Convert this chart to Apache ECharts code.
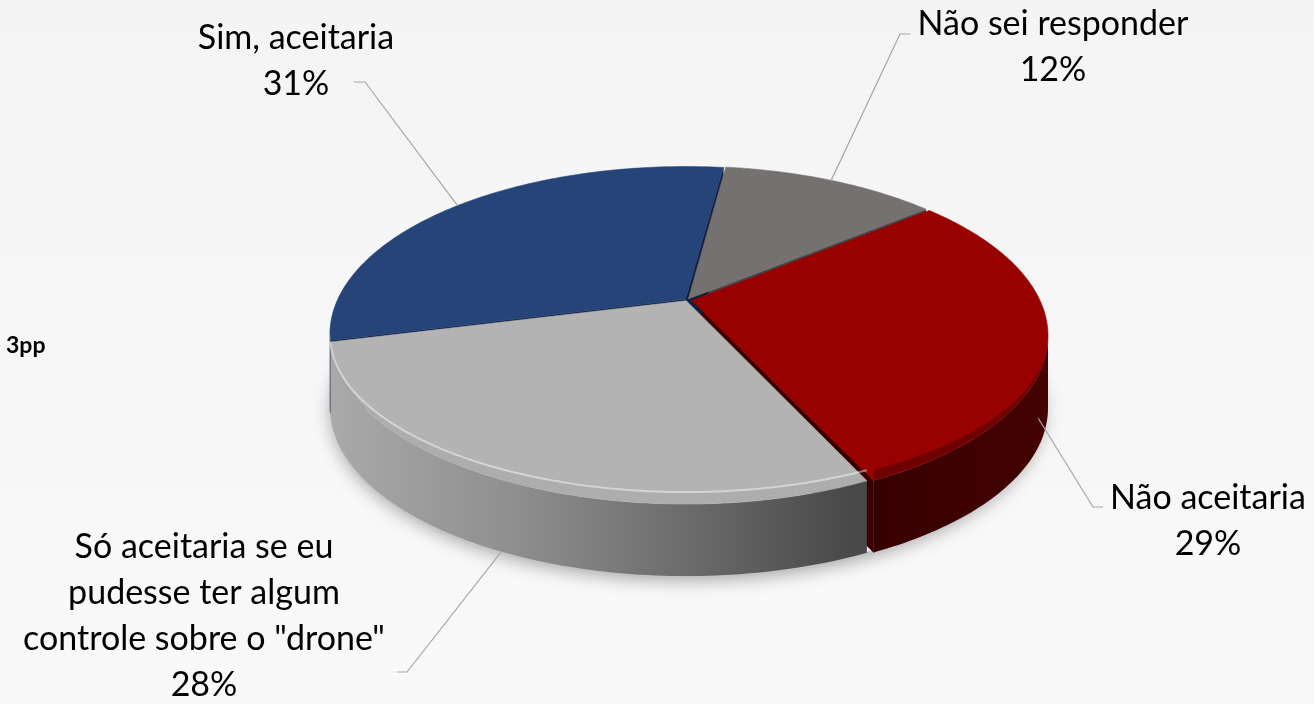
<!DOCTYPE html>
<html><head><meta charset="utf-8">
<script src="https://cdn.jsdelivr.net/npm/echarts@6/dist/echarts.min.js"></script>
<style>html,body{margin:0;padding:0;background:#f5f5f5}#c{width:1314px;height:704px}</style>
</head><body><div id="c"></div>
<script>
// ---- data ----
const categories = ['Não sei responder', 'Não aceitaria', 'Só aceitaria se eu\npudesse ter algum\ncontrole sobre o "drone"', 'Sim, aceitaria'];
const values = [12, 29, 28, 31];
const percentLabels = ['12%', '29%', '28%', '31%'];
const sideNote = '3pp';

// ---- derived ----
const total = values.reduce((a, b) => a + b, 0);
const cumBefore = values.map((v, i) => values.slice(0, i).reduce((a, b) => a + b, 0));
const sliceData = values.map((v, i) => ({ name: categories[i], value: [v, cumBefore[i]] }));

// ---- geometry / style ----
const G = { cx: 687, cy: 300, k: 348, m: 160.7, p: 0.208, th: 72, start: 82.5 };
const EXPLODE = [0.008, 0.014, 0.005, 0.006];
const TOP = ['#767171', '#990000', '#b3b3b3', '#264478'];
const WALL = ['#4a4646', '#3a0000', '#6e6e6e', '#0f1f3e'];
const SIDEFILL = [
  '#4f4b4b',
  { type: 'linear', x: 850, y: 0, x2: 1045, y2: 0, global: true, colorStops: [{ offset: 0, color: '#350000' }, { offset: 1, color: '#440202' }] },
  { type: 'linear', x: 328, y: 0, x2: 852, y2: 0, global: true, colorStops: [{ offset: 0, color: '#aaaaaa' }, { offset: 0.35, color: '#8f8f8f' }, { offset: 0.7, color: '#6a6a6a' }, { offset: 1, color: '#484848' }] },
  '#1f3b6a'
];
const BEVEL = ['rgba(0,0,0,0.1)', 'rgba(0,0,0,0.28)', 'rgba(0,0,0,0.03)', 'rgba(255,255,255,0.08)'];
const HILITE = ['rgba(255,255,255,0.12)', 'rgba(0,0,0,0)', 'rgba(255,255,255,0.45)', 'rgba(255,255,255,0.12)'];
const BEV_H = 12;
const LABEL_LAYOUT = [
  { x: 1053, y: 47, elbow: [900, 34], end: [910, 34], angle: null, depth: 0 },
  { x: 1208, y: 521, elbow: [1093, 507], end: [1103, 507], angle: -25, depth: 0.6 },
  { x: 204, y: 616, elbow: [407, 672], end: [397, 672], angle: null, depth: 1 },
  { x: 296, y: 61, elbow: [365, 82], end: [354, 82], angle: null, depth: 0 }
];

const D2R = Math.PI / 180;
function proj(X, Z, d) { const w = 1 + G.p * Z; return [G.cx + G.k * X / w, G.cy - G.m * Z / w + G.th * d]; }
function angles(v, c) { const a2 = G.start - 360 * c / total; return [a2 - 360 * v / total, a2]; }
function offset(i, a1, a2) { const mid = (a1 + a2) / 2 * D2R, e = EXPLODE[i]; return [e * Math.cos(mid), e * Math.sin(mid)]; }
function rim(t, o, d) { return proj(o[0] + Math.cos(t * D2R), o[1] + Math.sin(t * D2R), d); }
function arc(a, b, o, d) { const n = Math.max(2, Math.ceil(Math.abs(b - a))); const pts = []; for (let j = 0; j <= n; j++) pts.push(rim(a + (b - a) * j / n, o, d)); return pts; }
const SIL = Math.asin(G.p) / D2R;
function visibleRange(a1, a2) {
  const lo = 180 + SIL, hi = 360 - SIL;
  for (let s = -720; s <= 720; s += 360) { const x1 = Math.max(a1 + s, lo), x2 = Math.min(a2 + s, hi); if (x2 > x1) return [x1 - s, x2 - s]; }
  return null;
}
function sliceGeom(params, api) {
  const i = params.dataIndex, v = api.value(0), c = api.value(1);
  const [a1, a2] = angles(v, c); const o = offset(i, a1, a2);
  return { i, a1, a2, o };
}

function renderBase() {
  const pts = arc(0, 360, [0, 0], 1);
  return { type: 'polygon', shape: { points: pts }, style: { fill: '#eeeeee', shadowBlur: 18, shadowColor: 'rgba(0,0,0,0.35)', shadowOffsetY: 5 } };
}
function renderRadial(params, api) {
  const { i, a1, a2, o } = sliceGeom(params, api);
  const O0 = proj(o[0], o[1], 0), O1 = proj(o[0], o[1], 1);
  const M = rim((a1 + a2) / 2, o, 0);
  const children = [];
  [a1, a2].forEach(a => {
    const E0 = rim(a, o, 0), E1 = rim(a, o, 1);
    const ex = E0[0] - O0[0], ey = E0[1] - O0[1];
    const c1 = ex * (M[1] - O0[1]) - ey * (M[0] - O0[0]);
    const c2 = ex;
    if (c1 * c2 < 0) children.push({ type: 'polygon', shape: { points: [O0, E0, E1, O1] }, style: { fill: WALL[i], stroke: WALL[i], lineWidth: 0.5 } });
  });
  return { type: 'group', children };
}
function renderOuter(params, api) {
  const { i, a1, a2, o } = sliceGeom(params, api);
  const r = visibleRange(a1, a2);
  if (!r) return { type: 'group', children: [] };
  const top = arc(r[0], r[1], o, 0), bot = arc(r[1], r[0], o, 1);
  return { type: 'polygon', shape: { points: top.concat(bot) }, style: { fill: SIDEFILL[i] } };
}
function renderTop(params, api) {
  const { i, a1, a2, o } = sliceGeom(params, api);
  const O = proj(o[0], o[1], 0);
  const children = [{ type: 'polygon', shape: { points: [O].concat(arc(a1, a2, o, 0)) }, style: { fill: TOP[i], stroke: TOP[i], lineWidth: 0.6 } }];
  const r = visibleRange(a1, a2);
  if (r) {
    const n = Math.max(2, Math.ceil(r[1] - r[0]));
    const lower = [], upper = [];
    for (let j = 0; j <= n; j++) {
      const t = r[0] + (r[1] - r[0]) * j / n;
      const pt = rim(t, o, 0);
      lower.push(pt);
      const s = Math.max(0, -Math.sin(t * D2R) - G.p) / (1 - G.p);
      upper.push([pt[0], pt[1] - BEV_H * s]);
    }
    children.push({ type: 'polygon', shape: { points: upper.concat(lower.slice().reverse()) }, style: { fill: BEVEL[i] } });
    children.push({ type: 'polyline', shape: { points: upper }, style: { stroke: HILITE[i], lineWidth: 2, fill: null } });
  }
  return { type: 'group', children };
}
function renderLabel(params, api) {
  const { i, a1, a2, o } = sliceGeom(params, api);
  const L = LABEL_LAYOUT[i];
  const ang = L.angle == null ? (a1 + a2) / 2 : L.angle;
  const A = rim(ang, o, L.depth);
  return {
    type: 'group', children: [
      { type: 'polyline', shape: { points: [A, L.elbow, L.end] }, style: { stroke: '#a6a6a6', lineWidth: 1.2, fill: null } },
      { type: 'text', x: L.x, y: L.y, style: { text: categories[i] + '\n' + percentLabels[i], align: 'center', verticalAlign: 'middle', fontSize: 34, fontFamily: 'Lato', lineHeight: 46, fill: '#000' } }
    ]
  };
}

const chart = echarts.init(document.getElementById('c'));
chart.setOption({
  animation: false,
  backgroundColor: { type: 'linear', x: 0, y: 0, x2: 0, y2: 1, colorStops: [{ offset: 0, color: '#f4f4f4' }, { offset: 1, color: '#f9f9f9' }] },
  graphic: [{ type: 'text', left: 6, top: 334, style: { text: sideNote, fontSize: 23, fontWeight: 'bold', fontFamily: 'Lato', fill: '#000' } }],
  series: [
    { type: 'custom', coordinateSystem: 'none', silent: true, z: 1, data: [[0, 0]], renderItem: renderBase },
    { type: 'custom', coordinateSystem: 'none', silent: true, z: 2, data: sliceData, renderItem: renderRadial },
    { type: 'custom', coordinateSystem: 'none', silent: true, z: 3, data: sliceData, renderItem: renderOuter },
    { type: 'custom', coordinateSystem: 'none', silent: true, z: 4, data: sliceData, renderItem: renderTop },
    { type: 'custom', coordinateSystem: 'none', silent: true, z: 5, data: sliceData, renderItem: renderLabel }
  ]
});
</script>
</body></html>
